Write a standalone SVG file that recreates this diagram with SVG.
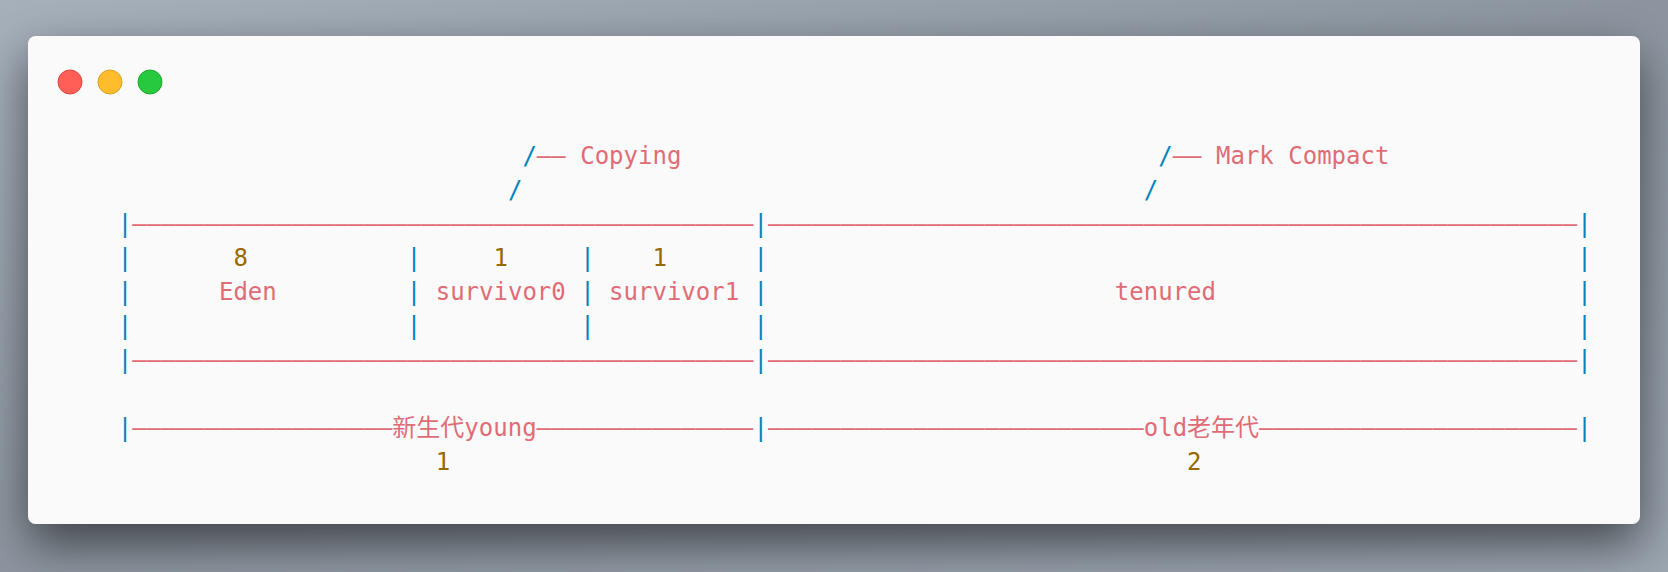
<svg xmlns="http://www.w3.org/2000/svg" width="1668" height="572" viewBox="0 0 1668 572">
  <defs>
    <linearGradient id="bg" x1="0" y1="0" x2="1" y2="1">
      <stop offset="0" stop-color="#a6b0bb"/>
      <stop offset="0.5" stop-color="#8c959f"/>
      <stop offset="1" stop-color="#9ba5b0"/>
    </linearGradient>
    <filter id="shadow" x="-10%" y="-20%" width="120%" height="150%">
      <feGaussianBlur in="SourceAlpha" stdDeviation="24"/>
      <feOffset dy="20" result="b"/>
      <feComponentTransfer><feFuncA type="linear" slope="0.55"/></feComponentTransfer>
      <feMerge><feMergeNode/><feMergeNode in="SourceGraphic"/></feMerge>
    </filter>
    <style>
      text { font-family: "DejaVu Sans Mono", "Noto Sans CJK SC", monospace; font-size: 24px; }
      .op { fill: #0184bc; }
      .tx { fill: #e06c75; }
      .nm { fill: #986801; }
    </style>
  </defs>
  <rect width="1668" height="572" fill="url(#bg)"/>
  <g id="window">
    <rect x="28" y="36" width="1612" height="488" rx="8" fill="#fafafa" filter="url(#shadow)"/>
    <circle cx="70" cy="82" r="12" fill="#ff5f56" stroke="#e0443e" stroke-width="1"/>
    <circle cx="110" cy="82" r="12" fill="#ffbd2e" stroke="#dea123" stroke-width="1"/>
    <circle cx="150" cy="82" r="12" fill="#27c93f" stroke="#1aab29" stroke-width="1"/>
  </g>
  <g id="connectors">
    <text class="op" x="522.4" y="163.5">/</text>
    <text class="tx" x="536.85" y="163.5">——</text>
    <text class="op" x="507.95" y="197.6">/</text>
    <text class="op" x="1158.2" y="163.5">/</text>
    <text class="tx" x="1172.65" y="163.5">——</text>
    <text class="op" x="1143.75" y="197.6">/</text>
  </g>
  <g id="label-copying">
    <text class="tx" x="580.2" y="163.5">Copying</text>
  </g>
  <g id="label-mark-compact">
    <text class="tx" x="1216" y="163.5">Mark Compact</text>
  </g>
  <g id="box-frame">
    <text class="op" x="117.8" y="231.7">|</text>
    <text class="tx" x="132.25" y="231.7">———————————————————————————————————————————</text>
    <text class="op" x="753.6" y="231.7">|</text>
    <text class="tx" x="768.05" y="231.7">————————————————————————————————————————————————————————</text>
    <text class="op" x="1577.25" y="231.7">|</text>
    <text class="op" x="117.8" y="265.8">|</text>
    <text class="op" x="117.8" y="299.9">|</text>
    <text class="op" x="117.8" y="334">|</text>
    <text class="op" x="753.6" y="265.8">|</text>
    <text class="op" x="753.6" y="299.9">|</text>
    <text class="op" x="753.6" y="334">|</text>
    <text class="op" x="1577.25" y="265.8">|</text>
    <text class="op" x="1577.25" y="299.9">|</text>
    <text class="op" x="1577.25" y="334">|</text>
    <text class="op" x="117.8" y="368.1">|</text>
    <text class="tx" x="132.25" y="368.1">———————————————————————————————————————————</text>
    <text class="op" x="753.6" y="368.1">|</text>
    <text class="tx" x="768.05" y="368.1">————————————————————————————————————————————————————————</text>
    <text class="op" x="1577.25" y="368.1">|</text>
  </g>
  <g id="eden">
    <text class="nm" x="233.4" y="265.8">8</text>
    <text class="tx" x="218.95" y="299.9">Eden</text>
    <text class="op" x="406.8" y="265.8">|</text>
    <text class="op" x="406.8" y="299.9">|</text>
    <text class="op" x="406.8" y="334">|</text>
  </g>
  <g id="survivor0">
    <text class="nm" x="493.5" y="265.8">1</text>
    <text class="tx" x="435.7" y="299.9">survivor0</text>
    <text class="op" x="580.2" y="265.8">|</text>
    <text class="op" x="580.2" y="299.9">|</text>
    <text class="op" x="580.2" y="334">|</text>
  </g>
  <g id="survivor1">
    <text class="nm" x="652.45" y="265.8">1</text>
    <text class="tx" x="609.1" y="299.9">survivor1</text>
  </g>
  <g id="tenured">
    <text class="tx" x="1114.85" y="299.9">tenured</text>
  </g>
  <g id="young">
    <text class="op" x="117.8" y="436.3">|</text>
    <text class="tx" x="132.25" y="436.3">——————————————————新生代young———————————————</text>
    <text class="op" x="753.6" y="436.3">|</text>
    <text class="nm" x="435.7" y="470.4">1</text>
  </g>
  <g id="old">
    <text class="tx" x="768.05" y="436.3">——————————————————————————old老年代——————————————————————</text>
    <text class="op" x="1577.25" y="436.3">|</text>
    <text class="nm" x="1187.1" y="470.4">2</text>
  </g>
</svg>
